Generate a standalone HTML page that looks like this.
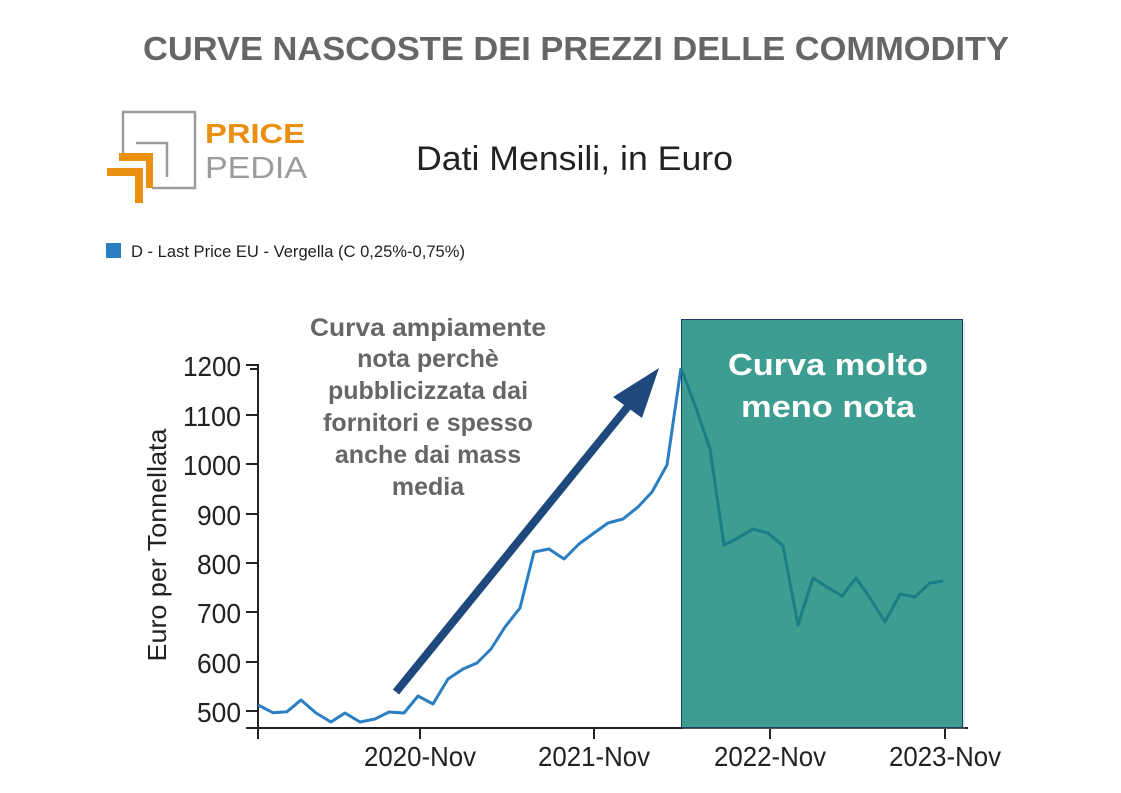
<!DOCTYPE html>
<html><head><meta charset="utf-8"><style>
html,body{margin:0;padding:0;background:#fff;}
svg{display:block;}
</style></head><body>
<svg width="1121" height="793" viewBox="0 0 1121 793" xmlns="http://www.w3.org/2000/svg" font-family="Liberation Sans, Arial, sans-serif">
<rect width="1121" height="793" fill="#fff"/>
<!-- Title -->
<text x="576" y="60" text-anchor="middle" font-size="33" font-weight="bold" fill="#666" textLength="866" lengthAdjust="spacingAndGlyphs">CURVE NASCOSTE DEI PREZZI DELLE COMMODITY</text>

<!-- Logo -->
<g fill="none" stroke="#9b9b9b" stroke-width="2.5">
  <polyline points="123,153 123,112 195,112 195,188 152,188"/>
  <polyline points="136,143 167,143 167,177"/>
</g>
<g fill="#ea8f10">
  <rect x="119" y="153" width="34" height="8"/>
  <rect x="146" y="153" width="7" height="35"/>
  <rect x="107" y="168" width="36" height="8"/>
  <rect x="135" y="168" width="8" height="35"/>
</g>
<text x="205" y="143" font-size="28" font-weight="bold" fill="#ea8f10" textLength="100" lengthAdjust="spacingAndGlyphs">PRICE</text>
<text x="205" y="178" font-size="31" fill="#9b9b9b" textLength="102" lengthAdjust="spacingAndGlyphs">PEDIA</text>

<text x="416" y="170" font-size="34" fill="#222" textLength="317" lengthAdjust="spacingAndGlyphs">Dati Mensili, in Euro</text>

<!-- Legend -->
<rect x="106" y="243" width="15" height="15" fill="#2b7ec1"/>
<text x="131" y="257" font-size="17" fill="#222" textLength="334" lengthAdjust="spacingAndGlyphs">D - Last Price EU - Vergella (C 0,25%-0,75%)</text>

<!-- Y axis title -->
<text transform="translate(166,545) rotate(-90)" text-anchor="middle" font-size="26" fill="#222" textLength="233" lengthAdjust="spacingAndGlyphs">Euro per Tonnellata</text>

<!-- Y axis -->
<g stroke="#222" stroke-width="2">
  <line x1="258" y1="364" x2="258" y2="739"/>
  <line x1="246" y1="365" x2="258" y2="365"/>
  <line x1="250" y1="369" x2="258" y2="369"/>
  <line x1="246" y1="415" x2="258" y2="415"/>
  <line x1="246" y1="464" x2="258" y2="464"/>
  <line x1="246" y1="514" x2="258" y2="514"/>
  <line x1="246" y1="563" x2="258" y2="563"/>
  <line x1="246" y1="612" x2="258" y2="612"/>
  <line x1="246" y1="662" x2="258" y2="662"/>
  <line x1="246" y1="711" x2="258" y2="711"/>
  <line x1="246" y1="728" x2="968" y2="728"/>
  <line x1="420" y1="728" x2="420" y2="739"/>
  <line x1="594" y1="728" x2="594" y2="739"/>
  <line x1="770" y1="728" x2="770" y2="739"/>
  <line x1="945" y1="728" x2="945" y2="739"/>
</g>
<g font-size="28" fill="#222" text-anchor="end">
  <text x="241" y="376" textLength="58" lengthAdjust="spacingAndGlyphs">1200</text>
  <text x="241" y="426" textLength="58" lengthAdjust="spacingAndGlyphs">1100</text>
  <text x="241" y="475" textLength="58" lengthAdjust="spacingAndGlyphs">1000</text>
  <text x="241" y="525" textLength="44" lengthAdjust="spacingAndGlyphs">900</text>
  <text x="241" y="574" textLength="44" lengthAdjust="spacingAndGlyphs">800</text>
  <text x="241" y="623" textLength="44" lengthAdjust="spacingAndGlyphs">700</text>
  <text x="241" y="673" textLength="44" lengthAdjust="spacingAndGlyphs">600</text>
  <text x="241" y="722" textLength="44" lengthAdjust="spacingAndGlyphs">500</text>
</g>
<g font-size="28" fill="#222" text-anchor="middle">
  <text x="420" y="766" textLength="112" lengthAdjust="spacingAndGlyphs">2020-Nov</text>
  <text x="594" y="766" textLength="112" lengthAdjust="spacingAndGlyphs">2021-Nov</text>
  <text x="770" y="766" textLength="112" lengthAdjust="spacingAndGlyphs">2022-Nov</text>
  <text x="945" y="766" textLength="112" lengthAdjust="spacingAndGlyphs">2023-Nov</text>
</g>

<!-- Blue series -->
<polyline fill="none" stroke="#2b7ec1" stroke-width="3" stroke-linejoin="round"
 points="258,705 273,712.7 287,711.7 301,700 316,713 331,722 345,713 360,722 375,719 389,712 404,713 418,696 433,704 448,679 463,669 477,663 491,649 505,627 520,608 534,552 549,549 564,559 579,544 594,533 608,523 623,519 638,507 652,492 667,465 681,368"/>

<!-- Teal box -->
<rect x="683" y="322" width="282" height="407" fill="#bbb" opacity="0.35"/>
<rect x="681.5" y="319.5" width="281" height="408" fill="#3d9d91" stroke="#1f3d6b" stroke-width="1"/>
<polyline fill="none" stroke="#1a7e87" stroke-width="3" stroke-linejoin="round"
 points="681,368 696,408 710,449 724,545 738,538 753,529 768,533 783,546 798,625 813,578 827,587 842,596 856,578 870,598 885,622 900,594 915,597 930,583 943,581"/>
<text x="828" y="375" text-anchor="middle" font-size="31" font-weight="bold" fill="#fff" textLength="200" lengthAdjust="spacingAndGlyphs">Curva molto</text>
<text x="828" y="417" text-anchor="middle" font-size="31" font-weight="bold" fill="#fff" textLength="174" lengthAdjust="spacingAndGlyphs">meno nota</text>

<!-- Annotation text -->
<g font-size="25" font-weight="bold" fill="#666" text-anchor="middle">
  <text x="428" y="336" textLength="236" lengthAdjust="spacingAndGlyphs">Curva ampiamente</text>
  <text x="428" y="367">nota perchè</text>
  <text x="428" y="399">pubblicizzata dai</text>
  <text x="428" y="431">fornitori e spesso</text>
  <text x="428" y="463">anche dai mass</text>
  <text x="428" y="495">media</text>
</g>

<!-- Arrow -->
<line x1="396" y1="692" x2="630" y2="404" stroke="#1f497d" stroke-width="8"/>
<polygon points="659,368 613,397 642,418" fill="#1f497d"/>
</svg>
</body></html>
